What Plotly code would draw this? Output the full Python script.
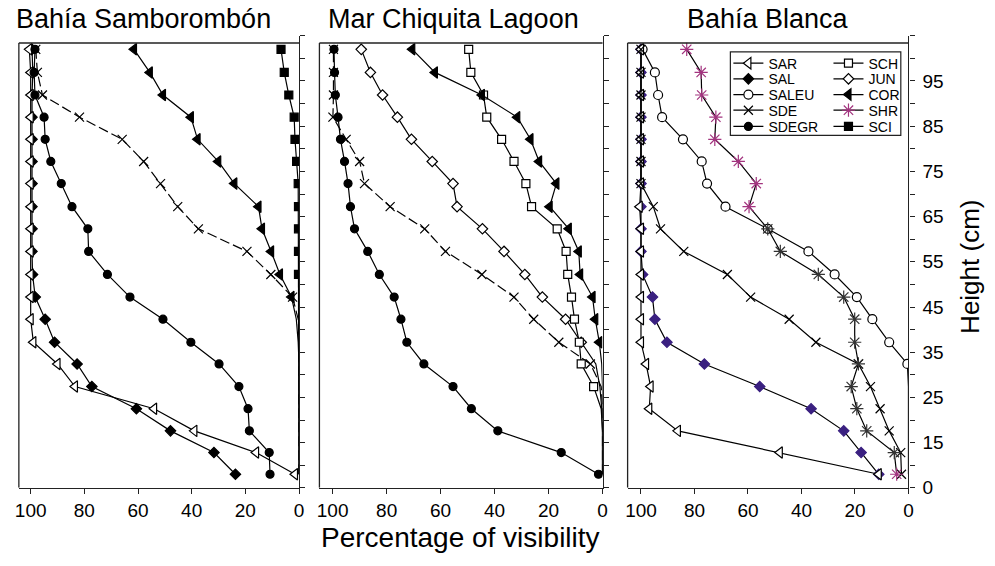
import plotly.graph_objects as go

# ---------------- data (bottom level -> top level) ----------------
heights = [3.0, 7.8, 12.6, 17.5, 22.4, 27.4, 32.2, 37.3, 42.2, 47.2,
           52.3, 57.3, 62.2, 67.3, 72.2, 77.1, 82.0, 86.9, 91.9, 97.0]

panel_titles = ["Bahía Samborombón", "Mar Chiquita Lagoon", "Bahía Blanca"]
x_tick_vals = [0, 20, 40, 60, 80, 100]
y_tick_vals = [0, 5, 10, 15, 20, 25, 30, 35, 40, 45, 50, 55, 60, 65, 70, 75, 80, 85, 90, 95, 100]
y_tick_text = ["0", "", "15", "", "25", "", "35", "", "45", "", "55", "", "65", "", "75", "", "85", "", "95", "", ""]
legend_order = ["SAR", "SAL", "SALEU", "SDE", "SDEGR", "SCH", "JUN", "COR", "SHR", "SCI"]

# Bahía Samborombón
bs_SAR = [1.5, 16, 39, 54, 83.5, 90, 99, 100, 100, 100, 100, 100, 100, 100, 100, 100, 100, 100, 100, 100.5]
bs_SAL = [23.7, 31.7, 47.9, 60.6, 77.2, 82.7, 91.1, 94.6, 98.3, 99.3, 99.5, 99.5, 99.5, 99.5, 99.5, 99.5, 99.5, 99.5, 99.2, 99.5]
bs_SDE = [0, 0, 0, 0, 0, 0, 0, 0.3, 2.4, 10.5, 19.4, 37.5, 45.2, 51.6, 57.9, 65.9, 81.8, 95.6, 97.5, 98.1]
bs_SDEGR = [10.8, 11.1, 18.5, 19, 22.4, 29.8, 40.3, 50.7, 63, 71.4, 78.4, 78.7, 84.6, 88.6, 92.5, 94.6, 95, 98.4, 98.7, 98.4]
bs_COR = [0, 0, 0, 0, 0, 0, 0.3, 1, 2.8, 7.1, 10.4, 13.8, 15.1, 24.1, 30.1, 37.8, 40.3, 50.7, 55.6, 61.5]
bs_SCI = [0, 0, 0, 0, 0, 0, 0, 0, 0, 0.2, 0.2, 0.2, 0.2, 0.3, 0.9, 1.5, 1.8, 3.8, 5.5, 6.7]

# Mar Chiquita Lagoon
mc_SDEGR = [1.5, 15.3, 38.8, 48.6, 55.4, 66.2, 72.5, 74.7, 77.2, 82.7, 87, 91.9, 93.4, 94.3, 95.6, 97.1, 98, 99, 99.3, 99.5]
mc_JUN = [0, 0, 0, 0.3, 1, 2.5, 7.9, 13.7, 22.3, 28.8, 36.5, 44.5, 53.9, 55.4, 63.1, 70.8, 76, 81.5, 86, 89.4]
mc_SDE = [0, 0, 0, 0, 0.5, 4.5, 16.2, 25.5, 32.8, 44.7, 58.2, 65.9, 78.7, 88.2, 90, 95, 99.9, 99.7, 99.7, 99.7]
mc_SCH = [0, 0, 0, 0.5, 3.3, 7.9, 8.6, 10.4, 11.5, 12.9, 13.5, 16.8, 26.3, 28.4, 32.8, 37.4, 42.9, 44.1, 48.8, 49.6]
mc_COR = [0, 0, 0, 0, 0, 0.3, 1.2, 2.7, 3.7, 8.3, 8.8, 12.5, 19.6, 17.1, 23.5, 26.7, 31.6, 44.7, 62.1, 70.5]

# Bahía Blanca
bb_SAR = [11.1, 48.1, 86.2, 96.9, 96.4, 98.1, 100, 100, 100, 100, 100, 100, 100.5, 100, 100, 100, 100, 100, 100, 100]
bb_SAL = [11.1, 17.7, 24.2, 36.4, 55.6, 76.3, 90.3, 94.8, 95.7, 99.4, 100, 100, 100, 100, 100, 100, 100, 100, 100, 100]
bb_SALEU = [0, 0, 0, 0, 0, 0.4, 7.2, 13.5, 19.3, 27.6, 37.4, 52.6, 68.4, 75.3, 77.3, 84.3, 92.1, 93.6, 94.8, 99.4]
bb_SDE = [2.6, 2.9, 7.2, 10.6, 14.2, 18.7, 34.6, 44.6, 59, 67.7, 84, 92.7, 95.4, 100, 100, 100, 100, 100, 100, 100]
bb_SHR = [4.4, 5.3, 15.6, 19.3, 21.4, 18.7, 20.1, 20.1, 24.2, 33.7, 47.9, 52.6, 59.6, 56.9, 63.6, 72.4, 72, 77.3, 77.5, 82.9]

# drawing order per panel (later = on top)
panels = [
    {"SAL": bs_SAL, "SAR": bs_SAR, "SDEGR": bs_SDEGR, "SDE": bs_SDE, "COR": bs_COR, "SCI": bs_SCI},
    {"SDE": mc_SDE, "SDEGR": mc_SDEGR, "JUN": mc_JUN, "SCH": mc_SCH, "COR": mc_COR},
    {"SAL": bb_SAL, "SALEU": bb_SALEU, "SAR": bb_SAR, "SDE": bb_SDE, "SHR": bb_SHR},
]

# ---------------- styles ----------------
PINK = "#a3347f"
INDIGO = "#3a2080"
STYLE = {
    "SAR": dict(symbol="triangle-left", color="white", lc="black", size=10),
    "SAL": dict(symbol="diamond", color="black", lc="black", size=8),
    "SALEU": dict(symbol="circle", color="white", lc="black", size=9),
    "SDE": dict(symbol="x-thin", color="black", lc="black", size=9),
    "SDEGR": dict(symbol="circle", color="black", lc="black", size=8),
    "SCH": dict(symbol="square", color="white", lc="black", size=8),
    "JUN": dict(symbol="diamond", color="white", lc="black", size=8),
    "COR": dict(symbol="triangle-left", color="black", lc="black", size=10),
    "SHR": dict(symbol="asterisk", color=PINK, lc=PINK, size=11),
    "SCI": dict(symbol="square", color="black", lc="black", size=8),
}
# index of first level drawn with a marker (below it: plain line)
MARK_START = {
    (0, "SDE"): 8, (0, "COR"): 8, (0, "SCI"): 9,
    (1, "JUN"): 6, (1, "SDE"): 5, (1, "SCH"): 4, (1, "COR"): 6,
    (2, "SALEU"): 5,
}
LEGEND_SOURCE = {"SAR": 2, "SAL": 0, "SALEU": 2, "SDE": 2, "SDEGR": 0,
                 "SCH": 1, "JUN": 1, "COR": 0, "SHR": 2, "SCI": 0}

W, H = 995, 566
x_domains = [(15 / W, 297.7 / W), (318.3 / W, 604 / W), (629.3 / W, 912.7 / W)]
y_domain = (1 - 497.5 / H, 1 - 36.5 / H)
x_ranges = [[104.4, 0], [104.9, 0], [105.0, 0]]
FONT = "Liberation Sans, Arial, sans-serif"


def legend_id(name):
    i = legend_order.index(name)
    return "legend" if i == 0 else f"legend{i+1}"


fig = go.Figure()

for p, series in enumerate(panels):
    xa = "x" if p == 0 else f"x{p+1}"
    ya = "y" if p == 0 else f"y{p+1}"
    for name, vals in series.items():
        st = STYLE[name]
        start = MARK_START.get((p, name), 0)
        dash = "10px,4px" if (name == "SDE" and p < 2) else "solid"
        if start > 0:
            fig.add_trace(go.Scatter(
                x=vals[:start + 1], y=heights[:start + 1], mode="lines",
                line=dict(color="black", width=1.2, dash=dash),
                xaxis=xa, yaxis=ya, showlegend=False, hoverinfo="skip"))
        mcolor = st["color"]
        lcolor = st["lc"]
        if name == "SAL" and p == 2:
            mcolor = INDIGO
            lcolor = INDIGO
        if name == "SHR":
            lcolor = [PINK if (i == 0 or i >= 12) else "#333333" for i in range(start, len(vals))]
        show = LEGEND_SOURCE[name] == p
        fig.add_trace(go.Scatter(
            x=vals[start:], y=heights[start:], mode="lines+markers", name=name,
            line=dict(color="black", width=1.2, dash=dash),
            marker=dict(symbol=st["symbol"], size=st["size"], color=mcolor,
                        line=dict(color=lcolor, width=1.2)),
            xaxis=xa, yaxis=ya, showlegend=show, legend=legend_id(name)))

axis_common = dict(showline=True, linecolor="#222", linewidth=1.3, ticks="outside",
                   ticklen=5, tickwidth=1.2, tickcolor="#222", showgrid=False, zeroline=False,
                   tickfont=dict(family=FONT, size=19, color="black"))
layout = dict(width=W, height=H, margin=dict(l=0, r=0, t=0, b=0),
              plot_bgcolor="white", paper_bgcolor="white", font=dict(family=FONT, color="black"))
for p in range(3):
    xk = "xaxis" if p == 0 else f"xaxis{p+1}"
    yk = "yaxis" if p == 0 else f"yaxis{p+1}"
    ya = "y" if p == 0 else f"y{p+1}"
    xa = "x" if p == 0 else f"x{p+1}"
    layout[xk] = dict(axis_common, domain=list(x_domains[p]), range=x_ranges[p],
                      tickvals=x_tick_vals, anchor=ya)
    layout[yk] = dict(axis_common, domain=list(y_domain), range=[0, 100], side="right",
                      tickvals=y_tick_vals, ticktext=y_tick_text,
                      showticklabels=(p == 2), anchor=xa, ticklabelstandoff=4)
fig.update_layout(**layout)

shapes = []
for p in range(3):
    xa = "x" if p == 0 else f"x{p+1}"
    ya = "y" if p == 0 else f"y{p+1}"
    shapes.append(dict(type="line", xref=f"{xa} domain", yref=ya, x0=0, x1=0, y0=0, y1=98.4,
                       line=dict(color="#222", width=1.3)))
    shapes.append(dict(type="line", xref=f"{xa} domain", yref=ya, x0=0, x1=1, y0=98.4, y1=98.4,
                       line=dict(color="#222", width=1.3)))
# legend frame
shapes.append(dict(type="rect", xref="paper", yref="paper", x0=733 / W, x1=905 / W,
                   y0=1 - 138 / H, y1=1 - 53 / H, fillcolor="white",
                   line=dict(color="#222", width=1.2), layer="above"))
fig.update_layout(shapes=shapes)

# one single-entry legend per item, laid out as a 2 x 5 grid
leg_common = dict(yanchor="top", xanchor="left", bgcolor="rgba(0,0,0,0)", borderwidth=0,
                  font=dict(family=FONT, size=14, color="black"), itemwidth=30,
                  tracegroupgap=0, itemclick=False, itemdoubleclick=False)
col_x = [731, 832]
row_top = [48.5, 64.5, 80.5, 96.5, 113]
leg_layout = {}
for i, name in enumerate(legend_order):
    c, r = divmod(i, 5)
    leg_layout[legend_id(name)] = dict(leg_common, x=col_x[c] / W, y=1 - row_top[r] / H)
fig.update_layout(**leg_layout)

annotations = []
title_x = [141, 454, 771]
for t, xc in zip(panel_titles, title_x):
    annotations.append(dict(text=t, x=xc / W, y=1 - 19 / H, xref="paper", yref="paper",
                            showarrow=False, xanchor="center", yanchor="middle",
                            font=dict(family=FONT, size=27, color="black")))
annotations.append(dict(text="Percentage of visibility", x=461 / W, y=1 - 548 / H,
                        xref="paper", yref="paper", showarrow=False, xanchor="center",
                        yanchor="middle", font=dict(family=FONT, size=28, color="black")))
annotations.append(dict(text="Height (cm)", x=975 / W, y=1 - 272 / H, xref="paper", yref="paper",
                        showarrow=False, textangle=-90, xanchor="center", yanchor="middle",
                        font=dict(family=FONT, size=26, color="black")))
fig.update_layout(annotations=annotations)

fig.write_html("out.html", config={"displayModeBar": False},
               post_script="document.body.style.margin='0px';document.body.style.overflow='hidden';")
